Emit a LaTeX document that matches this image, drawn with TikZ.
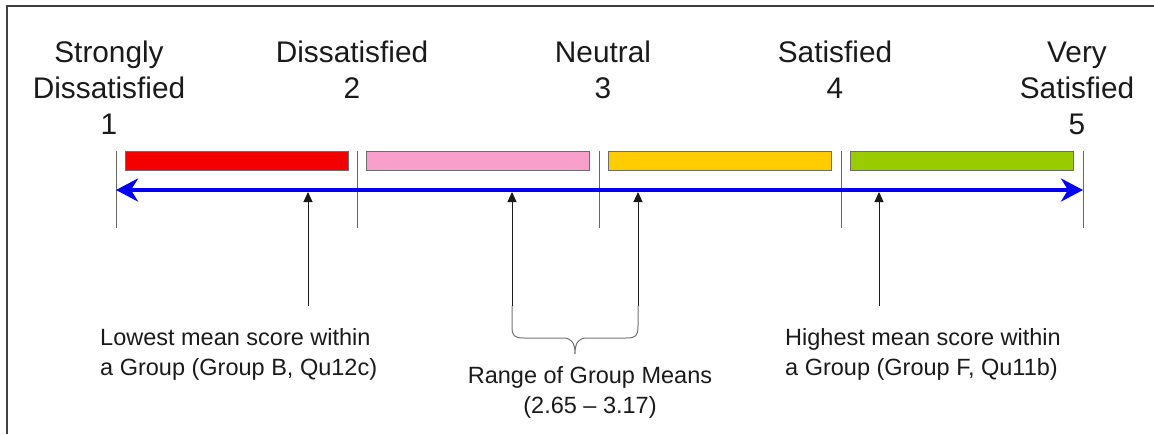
\documentclass[tikz,border=0pt]{standalone}
\usepackage{fontspec}
\setmainfont{Liberation Sans}
\usetikzlibrary{arrows.meta}

\definecolor{barred}{HTML}{F40000}
\definecolor{barpink}{HTML}{F99FCC}
\definecolor{baryellow}{HTML}{FFCC00}
\definecolor{bargreen}{HTML}{99CC00}
\definecolor{scaleblue}{HTML}{0000F5}
\definecolor{inkgray}{HTML}{1A1A1A}

\tikzset{
  bar/.style={draw=gray!85!black, line width=1pt, minimum width=223pt,
    minimum height=19pt, inner sep=0pt, outer sep=0pt},
  tickline/.style={draw=gray!80!black, line width=1pt},
  scaleline/.style={draw=scaleblue, line width=4pt,
    {Stealth[length=22pt,width=23pt,inset=7pt]}-{Stealth[length=22pt,width=23pt,inset=7pt]}},
  pointer/.style={draw=inkgray, line width=1pt,
    -{Triangle[length=10pt,width=9pt]}},
  toplabel/.style={anchor=base, align=center, inner sep=0pt, text=inkgray,
    font=\fontsize{29.8}{36}\selectfont},
  notelabel/.style={inner sep=0pt, text=inkgray,
    font=\fontsize{23.5}{30}\selectfont},
  bracepath/.style={draw=gray!90!black, line width=1pt}
}

\begin{document}
\begin{tikzpicture}[x=1pt,y=-1pt]
\useasboundingbox (0,0) rectangle (1154,434);

% frame edges
\draw[draw=black!75, line width=1.5pt] (7,434) -- (7,6) -- (1154,6);

% scale labels (anchored at the baseline of their last line)
\node[toplabel] (l1) at (109,134) {Strongly\\Dissatisfied\\1};
\node[toplabel] (l2) at (352,98) {Dissatisfied\\2};
\node[toplabel] (l3) at (603,98) {Neutral\\3};
\node[toplabel] (l4) at (835,98) {Satisfied\\4};
\node[toplabel] (l5) at (1077,134) {Very\\Satisfied\\5};

% division ticks
\foreach \i/\x in {1/116,2/357,3/599,4/841,5/1083}{
  \coordinate (t\i top) at (\x,151);
  \coordinate (t\i bot) at (\x,228);
  \draw[tickline] (t\i top) -- (t\i bot);
}

% coloured bands
\node[bar, fill=barred]    (b1) at (236.5,160.5) {};
\node[bar, fill=barpink]   (b2) at (477.5,160.5) {};
\node[bar, fill=baryellow] (b3) at (720,160.5) {};
\node[bar, fill=bargreen]  (b4) at (962,160.5) {};

% main double-headed scale arrow
\coordinate (sL) at (116,190);
\coordinate (sR) at (1083,190);
\draw[scaleline] (sL) -- (sR);

% pointers up to the scale
\foreach \n/\x in {low/308,rmin/512,rmax/638,high/879}{
  \coordinate (\n foot) at (\x,306);
  \coordinate (\n tip) at (\x,192);
  \draw[pointer] (\n foot) -- (\n tip);
}

% brace under the range
\coordinate (brL) at (512,306);
\coordinate (brR) at (638,306);
\coordinate (brM) at (575,354);
\draw[bracepath] (brL) -- (512,326) .. controls (512,336) and (514,338) .. (524,338)
  -- (563,338) .. controls (571,338) and (575,342) .. (brM)
  .. controls (575,342) and (579,338) .. (587,338)
  -- (626,338) .. controls (636,338) and (638,336) .. (638,326) -- (brR);

% notes
\node[notelabel, anchor=base west, align=left] (lowtext) at (100,375)
  {Lowest mean score within\\a Group (Group B, Qu12c)};
\node[notelabel, anchor=base west, align=left] (hightext) at (785,375)
  {Highest mean score within\\a Group (Group F, Qu11b)};
\node[notelabel, anchor=base, align=center] (rangetext) at (590,413)
  {Range of Group Means\\(2.65 – 3.17)};
\end{tikzpicture}
\end{document}
